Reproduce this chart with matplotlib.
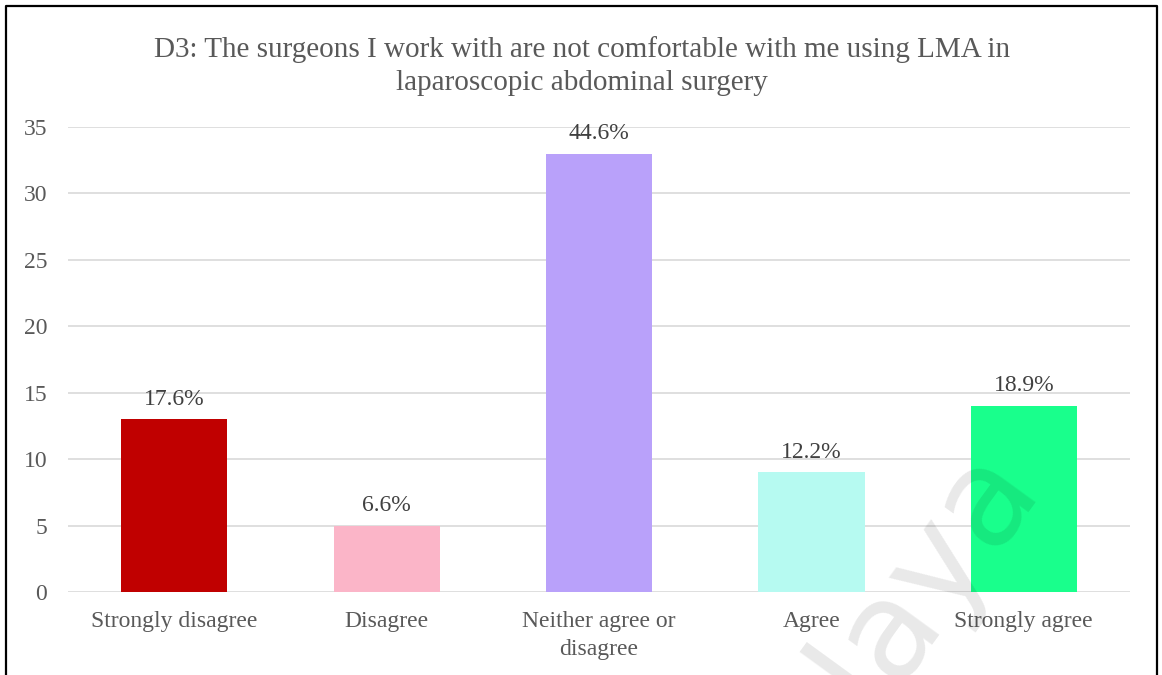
import matplotlib.pyplot as plt
from matplotlib.lines import Line2D

# Ответы на вопрос D3 (количество и доля респондентов)
categories = ['Strongly disagree', 'Disagree', 'Neither agree or\ndisagree', 'Agree', 'Strongly agree']
counts = [13, 5, 33, 9, 14]
pct_labels = ['17.6%', '6.6%', '44.6%', '12.2%', '18.9%']
bar_colors = ['#C00000', '#FBB5C8', '#B9A1FA', '#B6FAF1', '#19FF8C']

title = 'D3: The surgeons I work with are not comfortable with me using LMA in\nlaparoscopic abdominal surgery'

plt.rcParams['font.family'] = ['Liberation Serif', 'DejaVu Serif']
text_color = '#595959'

fig = plt.figure(figsize=(11.62, 6.75), dpi=100)
ax = fig.add_axes([68 / 1162, 1 - 592 / 675, (1130 - 68) / 1162, (592 - 127) / 675])

x = range(len(categories))
ax.bar(x, counts, width=0.5, color=bar_colors, zorder=2)

for xi, c, lab in zip(x, counts, pct_labels):
    ax.annotate(lab, (xi, c), xytext=(0, 7), textcoords='offset points',
                ha='center', va='bottom', fontsize=17, color='#404040')

ax.set_xlim(-0.5, len(categories) - 0.5)
ax.set_ylim(0, 35)
ax.set_yticks(range(0, 36, 5))
ax.set_xticks(list(x))
ax.set_xticklabels(categories, linespacing=1.4)
ax.tick_params(axis='both', length=0, labelsize=17, labelcolor=text_color)
ax.tick_params(axis='x', pad=14)
ax.tick_params(axis='y', pad=15)
ax.grid(axis='y', color='#D9D9D9', linewidth=1.2, zorder=0)
for s in ax.spines.values():
    s.set_visible(False)

fig.text(582 / 1162, 1 - 66 / 675, title, ha='center', va='center',
         fontsize=21, color=text_color, linespacing=1.35)

# рамка вокруг рисунка (снизу открыта)
fx = [6 / 1162, 6 / 1162, 1157 / 1162, 1157 / 1162]
fy = [0, 1 - 6 / 675, 1 - 6 / 675, 0]
fig.add_artist(Line2D(fx, fy, color='black', linewidth=1.6, transform=fig.transFigure))

# водяной знак
fig.text(865 / 1162, 1 - 655 / 675, 'Malaya', rotation=54, fontsize=98,
         family='DejaVu Sans', color='black', alpha=0.09, ha='center', va='center',
         zorder=10)

fig.savefig('out.png', dpi=100)
